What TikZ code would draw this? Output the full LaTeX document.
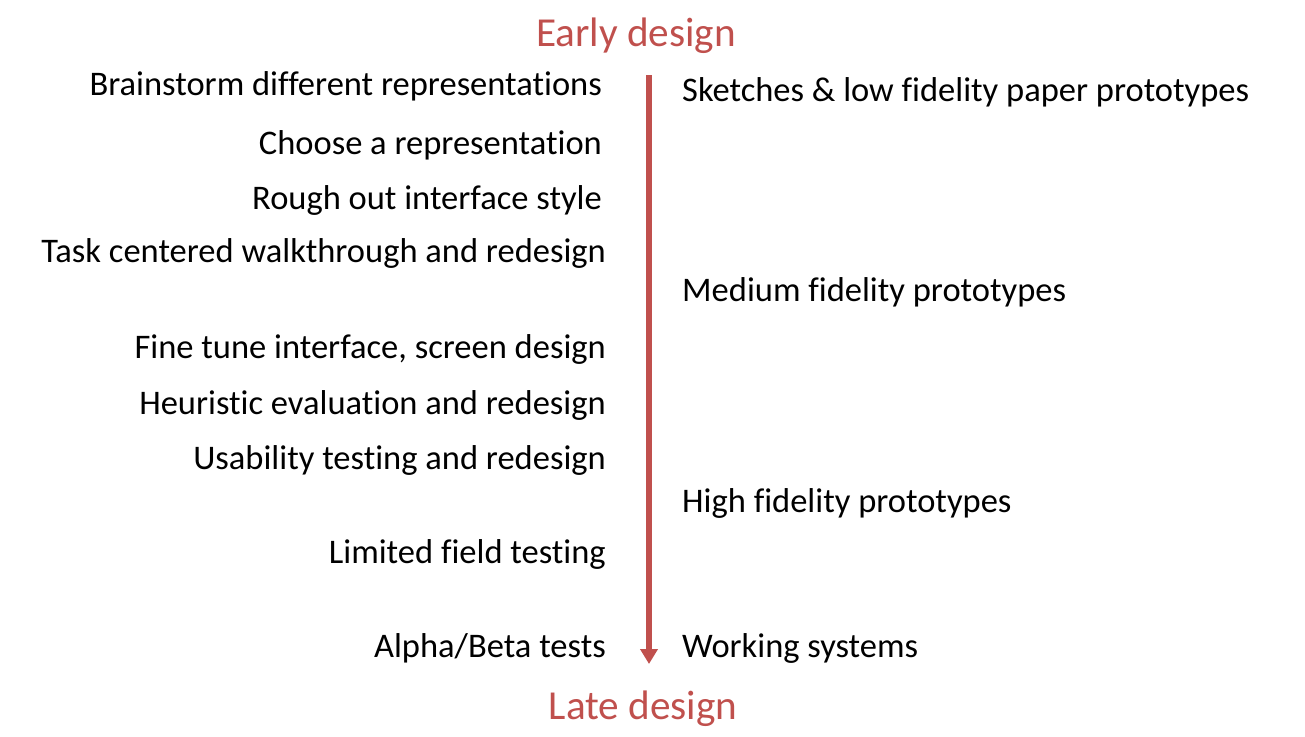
\documentclass[tikz,border=0pt]{standalone}
\usepackage{fontspec}
\setmainfont[Ligatures={NoCommon,NoRequired,NoContextual}]{Carlito}
\usetikzlibrary{arrows.meta}
\definecolor{accent}{HTML}{C0504D}
\begin{document}
\begin{tikzpicture}[x=1pt,y=-1pt,
  stage/.style={anchor=base east,inner sep=0pt,font=\fontsize{34.5}{38}\selectfont},
  proto/.style={anchor=base west,inner sep=0pt,font=\fontsize{34.5}{38}\selectfont},
  phase/.style={anchor=base,inner sep=0pt,text=accent,font=\fontsize{41.2}{45}\selectfont}]
\useasboundingbox (0,0) rectangle (1305,736);
% ends of the timeline
\node[phase] (early) at (636,46) {Early design};
\node[phase] (late) at (643,719) {Late design};
\coordinate (top) at (649,75);
\coordinate (bottom) at (649,664);
\draw[accent,line width=6,-{Triangle[width=17,length=15]}] (top) -- (bottom);
% design activities
\node[stage] (s1) at (602,95) {Brainstorm different representations};
\node[stage] (s2) at (602,154) {Choose a representation};
\node[stage] (s3) at (602,209) {Rough out interface style};
\node[stage] (s4) at (606,262) {Task centered walkthrough and redesign};
\node[stage] (s5) at (606,358) {Fine tune interface, screen design};
\node[stage] (s6) at (606,414) {Heuristic evaluation and redesign};
\node[stage] (s7) at (606,469) {Usability testing and redesign};
\node[stage] (s8) at (606,563) {Limited field testing};
\node[stage] (s9) at (606,657) {Alpha/Beta tests};
% prototype kinds
\node[proto] (p1) at (682,101) {Sketches \& low fidelity paper prototypes};
\node[proto] (p2) at (682,301) {Medium fidelity prototypes};
\node[proto] (p3) at (682,512) {High fidelity prototypes};
\node[proto] (p4) at (682,657) {Working systems};
\end{tikzpicture}
\end{document}
